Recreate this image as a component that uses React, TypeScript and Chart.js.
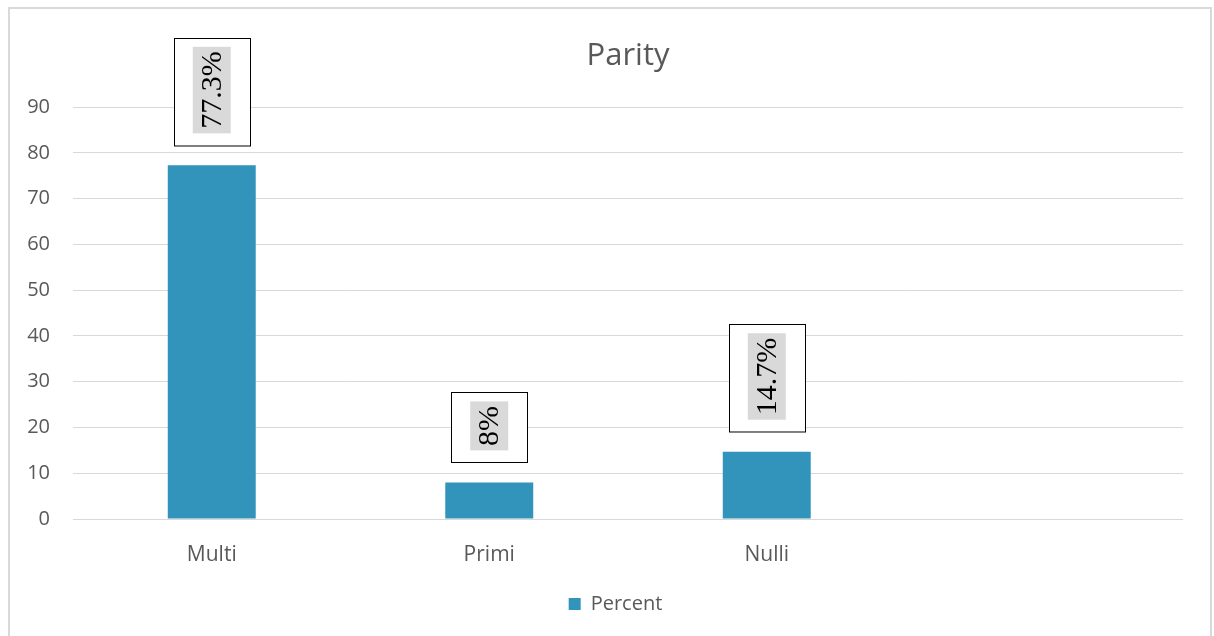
import React, { useEffect, useRef } from "react";
import { Chart, registerables } from "chart.js";

Chart.register(...registerables);

const categories = ["Multi", "Primi", "Nulli", ""];
const percentValues: (number | null)[] = [77.3, 8, 14.7, null];
const labelTexts = ["77.3%", "8%", "14.7%", ""];
const yTicks = [0, 10, 20, 30, 40, 50, 60, 70, 80, 90];

const barColor = "rgb(50,148,187)";
const textGray = "#595959";
const gridGray = "#d9d9d9";
const uiFont = "'Open Sans', 'Liberation Sans', sans-serif";

const frame = {
  id: "frame",
  beforeDraw(chart: any) {
    const ctx = chart.ctx;
    ctx.save();
    ctx.fillStyle = "#ffffff";
    ctx.fillRect(0, 0, chart.width, chart.height);
    ctx.strokeStyle = gridGray;
    ctx.lineWidth = 2;
    ctx.strokeRect(9, 8, 1202, 640);
    ctx.restore();
  },
};

// nudge the bottom legend so it sits where the original one does
const legendShift = {
  id: "legendShift",
  afterLayout(chart: any) {
    if (chart.legend) {
      chart.legend.left += 24;
      chart.legend.right += 24;
      if (chart.legend.legendHitBoxes) {
        chart.legend.legendHitBoxes.forEach((b: any) => (b.left += 24));
      }
    }
  },
};

const boxLabels = {
  id: "boxLabels",
  afterDatasetsDraw(chart: any) {
    const ctx = chart.ctx;
    const meta = chart.getDatasetMeta(0);
    meta.data.forEach((bar: any, i: number) => {
      const v = percentValues[i];
      if (v == null) return;
      const text = labelTexts[i];
      ctx.save();
      ctx.font = "30px 'Liberation Serif', 'Times New Roman', serif";
      const tw = ctx.measureText(text).width;
      const grayH = tw + 9;
      const grayW = 38;
      const boxW = grayW + 38;
      const boxH = grayH + 21;
      const cx = bar.x;
      const boxBottom = bar.y - 20;
      const boxTop = boxBottom - boxH;
      ctx.fillStyle = "#ffffff";
      ctx.fillRect(cx - boxW / 2, boxTop, boxW, boxH);
      ctx.strokeStyle = "#000000";
      ctx.lineWidth = 1;
      ctx.strokeRect(Math.round(cx - boxW / 2) + 0.5, Math.round(boxTop) + 0.5, boxW, boxH);
      ctx.fillStyle = "#d9d9d9";
      ctx.fillRect(cx - grayW / 2, boxTop + 9, grayW, grayH);
      ctx.translate(cx, boxTop + 9 + grayH / 2);
      ctx.rotate(-Math.PI / 2);
      ctx.fillStyle = "#000000";
      ctx.textAlign = "center";
      ctx.textBaseline = "middle";
      ctx.fillText(text, 0, 1);
      ctx.restore();
    });
  },
};

export default function App() {
  const ref = useRef<HTMLCanvasElement | null>(null);

  useEffect(() => {
    document.body.style.margin = "0";
    const canvas = ref.current;
    if (!canvas) return;
    const chart = new Chart(canvas, {
      type: "bar",
      data: {
        labels: categories,
        datasets: [
          {
            label: "Percent",
            data: percentValues,
            backgroundColor: barColor,
            borderWidth: 0,
            barPercentage: 0.317,
            categoryPercentage: 1,
          },
        ],
      },
      options: {
        animation: false,
        responsive: false,
        maintainAspectRatio: false,
        layout: { padding: { left: 0, right: 31, top: 0, bottom: 12 } },
        plugins: {
          title: {
            display: true,
            fullSize: false,
            text: "Parity",
            color: textGray,
            font: { family: uiFont, size: 31, weight: "normal" },
            padding: { top: 38, bottom: 32 },
          },
          legend: {
            display: true,
            position: "bottom",
            labels: {
              color: textGray,
              font: { family: uiFont, size: 20 },
              boxWidth: 12,
              boxHeight: 12,
              padding: 10,
            },
          },
          tooltip: { enabled: false },
        },
        scales: {
          x: {
            grid: { display: false, drawTicks: false },
            border: { display: false },
            ticks: {
              color: textGray,
              font: { family: uiFont, size: 21 },
              padding: 23,
            },
            afterFit(s: any) {
              s.height = 65;
            },
          },
          y: {
            min: 0,
            max: 90,
            afterBuildTicks(s: any) {
              s.ticks = yTicks.map((v) => ({ value: v }));
            },
            grid: { color: gridGray, lineWidth: 1, drawTicks: false },
            border: { display: false },
            ticks: {
              color: textGray,
              font: { family: uiFont, size: 20 },
              padding: 23,
            },
            afterFit(s: any) {
              s.width = 73;
            },
          },
        },
      },
      plugins: [frame, legendShift, boxLabels],
    } as any);
    return () => chart.destroy();
  }, []);

  return <canvas ref={ref} width={1214} height={636} style={{ display: "block" }} />;
}
